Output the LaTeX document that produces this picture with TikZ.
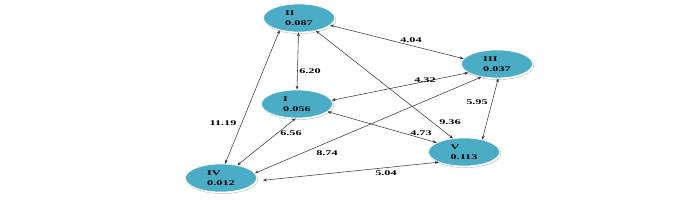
\documentclass[tikz,border=0pt]{standalone}
\usepackage{fontspec}
\setmainfont{Liberation Serif}[FakeStretch=1.7]
\usetikzlibrary{arrows.meta,shapes.geometric,shadows}
\definecolor{plsblue}{HTML}{4BACC6}
\definecolor{linkgray}{HTML}{3A3A3A}
\begin{document}
\begin{tikzpicture}[x=1pt,y=-1pt,every node/.style={font=\fontsize{7.2}{10.5}\selectfont\bfseries},
  construct/.style={ellipse,fill=plsblue,draw=white,line width=0.6pt,minimum width=71pt,minimum height=28pt,inner sep=0pt,align=left,
    copy shadow={shadow xshift=1.3pt,shadow yshift=-1.6pt,fill=white,draw=gray!55,line width=0.4pt}},
  link/.style={{Stealth[length=4pt,width=3pt]}-{Stealth[length=4pt,width=3pt]},linkgray,line width=0.55pt},
  coef/.style={inner sep=1pt}]
\useasboundingbox (0,0) rectangle (700,200);
% latent variables with R-square
\node[construct] (II) at (299,18) {II\\0.087};
\node[construct] (I) at (297,104) {I\\0.056};
\node[construct] (III) at (497,64) {III\\0.037};
\node[construct] (V) at (464,152) {V\\0.113};
\node[construct] (IV) at (221,178) {IV\\0.012};
% paths
\draw[link] (II.-13)--(III.171);
\draw[link] (II.-92)--(I.90);
\draw[link] (II.212)--(IV.74);
\draw[link] (II.-37)--(V.129);
\draw[link] (III.197)--(I.6);
\draw[link] (I.-14)--(V.161);
\draw[link] (I.-95)--(IV.38);
\draw[link] (IV.8)--(III.220);
\draw[link,shorten <=7pt] (IV.-5)--(V.202);
\draw[link] (III.-85)--(V.34);
% coefficients
\node[coef] (c404) at (411,40) {4.04};
\node[coef] (c620) at (310,71) {6.20};
\node[coef] (c1119) at (223,123) {11.19};
\node[coef] (c936) at (450,122) {9.36};
\node[coef] (c432) at (425,80) {4.32};
\node[coef] (c473) at (421,133) {4.73};
\node[coef] (c656) at (291,133) {6.56};
\node[coef] (c874) at (327,153) {8.74};
\node[coef] (c504) at (386,173) {5.04};
\node[coef] (c595) at (477,102) {5.95};
\end{tikzpicture}
\end{document}
